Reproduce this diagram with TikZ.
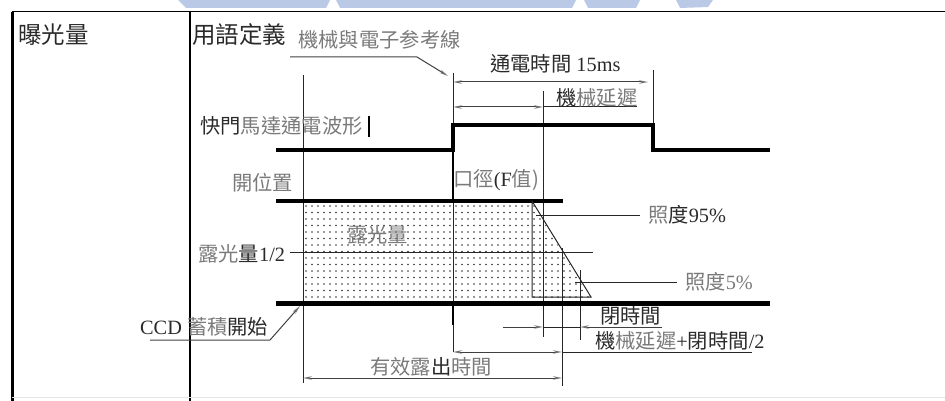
\documentclass[tikz,border=0pt]{standalone}
\usepackage{fontspec}
\setmainfont{Liberation Serif}
\newfontfamily\cjk{Noto Sans CJK TC}
\usetikzlibrary{arrows.meta}
\definecolor{txtgray}{HTML}{7A7A7A}
\definecolor{txtdark}{HTML}{2A2A2A}
\definecolor{wmblue}{HTML}{B9C9E6}
\newcommand{\zh}[1]{{\cjk #1}}
\newcommand{\gr}[1]{\textcolor{txtgray}{#1}}
\tikzset{
  lbl/.style={anchor=west, inner sep=0pt, text=txtdark, font=\fontsize{20.3}{22}\selectfont},
  head/.style={anchor=west, inner sep=0pt, text=txtdark, font=\fontsize{23.5}{25}\selectfont},
  thinln/.style={line width=1pt, draw=black!85},
  wave/.style={line width=4pt, draw=black},
  dim/.style={line width=1pt, draw=black!75, {Stealth[length=9pt,width=3.5pt,color=black!55,fill=black!35]}-{Stealth[length=9pt,width=3.5pt,color=black!55,fill=black!35]}},
  onearrow/.style={line width=1pt, draw=black!75, -{Stealth[length=9pt,width=3.5pt,color=black!55,fill=black!35]}}
}
\begin{document}
\begin{tikzpicture}[x=1pt,y=-1pt]
\useasboundingbox (0,0) rectangle (945,401);
% watermark at top
\fill[wmblue] (178,0) -- (330,0) -- (326,8) -- (186,8) -- cycle;
\fill[wmblue] (336,0) -- (576,0) -- (572,8) -- (340,8) -- cycle;
\fill[wmblue] (584,0) -- (640,0) -- (636,8) -- (588,8) -- cycle;
\fill[wmblue] (676,0) -- (713,0) -- (708,7) -- (680,8) -- cycle;
% frame
\coordinate (tl) at (12,12); \coordinate (tr) at (945,12);
\coordinate (bl) at (12,401); \coordinate (dt) at (190,12); \coordinate (db) at (190,401);
\draw[line width=1pt] (tl) -- (tr);
\draw[line width=3pt] (tl) -- (bl);
\draw[line width=1.2pt] (dt) -- (db);
\draw[line width=0.8pt, black!10] (12,397) -- (945,397);

% headers
\node[head] (h1) at (18,35) {\zh{曝光量}};
\node[head] (h2) at (192,35) {\zh{用語定義}};

% dotted exposure area
\begin{scope}
\clip (303,201) -- (532,201) -- (591,300) -- (303,300) -- cycle;
\foreach \x in {306,312,...,598} {
  \foreach \y in {206,212.5,...,302} {
    \fill[black!80] (\x,\y) circle (0.9pt);
  }
}
\end{scope}

% coordinates
\coordinate (w1) at (276,150); \coordinate (w2) at (453,150); \coordinate (w3) at (453,125);
\coordinate (w4) at (653,125); \coordinate (w5) at (653,150); \coordinate (w6) at (770,150);
\coordinate (o1) at (276,201); \coordinate (o2) at (563,201);
\coordinate (c1) at (276,303); \coordinate (c2) at (770,303);

% vertical guide lines
\draw[thinln] (453,73) -- (453,352);
\draw[line width=2.5pt] (453,125) -- (453,201);
\draw[line width=2.5pt] (453,303) -- (453,325);
\draw[thinln] (303,75) -- (303,383);
\draw[thinln] (543,91) -- (543,337);
\draw[thinln] (653,70) -- (653,125);
\draw[thinln] (562,248) -- (562,386);
\draw[thinln] (580,270) -- (580,340);

% waveforms
\draw[wave, line join=miter] (w1) -- (w2) -- (w3) -- (w4) -- (w5) -- (w6);
\draw[wave] (o1) -- (o2);
\draw[line width=5pt] (c1) -- (c2);

% closing slope and outline
\coordinate (s1) at (532,201); \coordinate (s2) at (591,297); \coordinate (s3) at (532,297);
\draw[thinln] (s1) -- (s2) -- (s3) -- cycle;

% leaders
\draw[thinln] (536,215) -- (640,215);
\draw[thinln] (290,252) -- (593,252);
\draw[thinln] (575,282) -- (677,282);

% dimension arrows
\draw[dim] (453,82) -- (648,82);
\draw[dim] (453,107) -- (543,107);
\draw[thinln] (543,107) -- (637,107);
\draw[onearrow] (503,327) -- (543,327);
\draw[thinln] (543,327) -- (580,327);
\draw[onearrow] (662,327) -- (580,327);
\draw[dim] (453,352) -- (562,352);
\draw[thinln] (562,352) -- (752,352);
\draw[dim] (303,378) -- (562,378);

% pointer leaders
\draw[onearrow] (290,57) -- (417,57) -- (448,76);
\draw[onearrow] (150,340) -- (270,340) -- (300,306);

% cursor bar
\draw[line width=1.2pt] (369,116) -- (369,137);

% labels
\node[lbl, text=txtgray] (t1) at (298,40) {\zh{機械與電子参考線}};
\node[lbl] (t2) at (490,64) {\zh{通電時間} 15ms};
\node[lbl] (t3) at (556,98) {\zh{機}\gr{\zh{械延遲}}};
\node[lbl] (t4) at (200,126) {\zh{快門}\gr{\zh{馬達通電波形}}};
\node[lbl, text=txtgray] (t5) at (232,183) {\zh{開位置}};
\node[lbl, text=txtgray] (t6) at (453,180) {\zh{口徑}\textcolor{txtdark}{(F}\zh{值)}};
\node[lbl, text=txtgray] (t7) at (347,235) {\zh{露光量}};
\node[lbl] (t8) at (198,254) {\gr{\zh{露光}}\zh{量}1/2};
\node[lbl] (t9) at (648,215) {\gr{\zh{照}}\zh{度}95\%};
\node[lbl, text=txtgray] (t10) at (685,282) {\zh{照度}5\%};
\node[lbl] (t11) at (140,327) {CCD \gr{\zh{蓄積}}\zh{開始}};
\node[lbl] (t12) at (600,316) {\zh{閉時間}};
\node[lbl] (t13) at (595,341) {\zh{機}\gr{\zh{械延遲}}+\zh{閉時間}/2};
\node[lbl] (t14) at (370,367) {\gr{\zh{有效露}}\zh{出}\gr{\zh{時間}}};
\end{tikzpicture}
\end{document}
